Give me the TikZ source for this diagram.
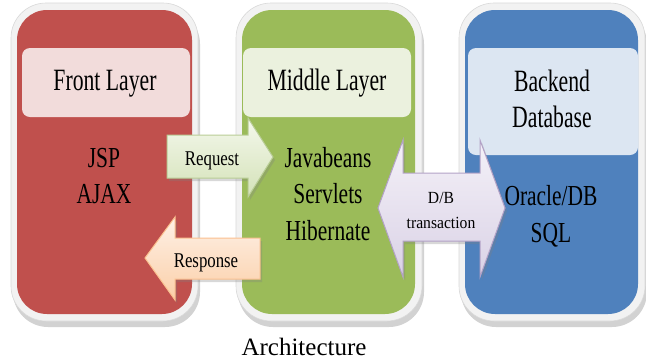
\documentclass[tikz,border=0pt]{standalone}
\usepackage{fontspec}
\setmainfont{Liberation Serif}
\newfontfamily\hdfont[FakeStretch=0.70]{Liberation Serif}
\newfontfamily\bdfont[FakeStretch=0.74]{Liberation Serif}
\newfontfamily\arfont[FakeStretch=0.80]{Liberation Serif}
\newfontfamily\dbfont[FakeStretch=0.92]{Liberation Serif}
\usetikzlibrary{shadows}
\definecolor{redp}{HTML}{C0504D}
\definecolor{greenp}{HTML}{9BBB59}
\definecolor{bluep}{HTML}{4F81BD}
\definecolor{redhd}{HTML}{F2DCDB}
\definecolor{greenhd}{HTML}{EBF1DE}
\definecolor{bluehd}{HTML}{DCE6F2}
\definecolor{framegray}{HTML}{F2F2F2}
\definecolor{reqtop}{HTML}{F4F8EC}
\definecolor{reqbot}{HTML}{D4E2B8}
\definecolor{reqline}{HTML}{B9CD96}
\definecolor{restop}{HTML}{FEF1E7}
\definecolor{resbot}{HTML}{FBCFA8}
\definecolor{resline}{HTML}{FAC08F}
\definecolor{dbtop}{HTML}{F4F1F8}
\definecolor{dbbot}{HTML}{DAD2E6}
\definecolor{dbline}{HTML}{B3A2C7}
\tikzset{
  frame/.style={fill=framegray, draw=gray!30, line width=0.6pt, rounded corners=35pt,
    drop shadow={shadow xshift=2pt, shadow yshift=-6pt, opacity=0.35, fill=gray}},
  panel/.style={rounded corners=30pt},
  hdbox/.style={rectangle, rounded corners=8pt, inner sep=0pt},
  hdtext/.style={anchor=base, inner sep=0pt, font=\hdfont\fontsize{31}{31}\selectfont},
  bdtext/.style={anchor=base, inner sep=0pt, font=\bdfont\fontsize{29}{29}\selectfont},
  artext/.style={anchor=base, inner sep=0pt, font=\arfont\fontsize{21}{21}\selectfont},
  dbtext/.style={anchor=base, inner sep=0pt, font=\dbfont\fontsize{17}{17}\selectfont},
  ashadow/.style={drop shadow={shadow xshift=2pt, shadow yshift=-3pt, opacity=0.3, fill=gray}},
}
\begin{document}
\begin{tikzpicture}[x=1pt,y=-1pt]
\useasboundingbox (0,0) rectangle (646,360);
\fill[white] (0,0) rectangle (646,360);
% panels
\path[frame] (11,3) rectangle (198,321);
\path[frame] (236,3) rectangle (422,321);
\path[frame] (459,3) rectangle (645,321);
\fill[redp, panel] (17,10) rectangle (192,314);
\fill[greenp, panel] (242,10) rectangle (415,314);
\fill[bluep, panel] (465,10) rectangle (638,314);
% header boxes
\node[hdbox, fill=redhd, minimum width=168pt, minimum height=69pt] (fronthd) at (106,82.5) {};
\node[hdbox, fill=greenhd, minimum width=168pt, minimum height=69pt] (midhd) at (327,82.5) {};
\node[hdbox, fill=bluehd, minimum width=170pt, minimum height=107pt] (backhd) at (553,101.5) {};
% header texts
\node[hdtext] (t1) at (105,90) {Front Layer};
\node[hdtext] (t2) at (327,90) {Middle Layer};
\node[hdtext] (t3) at (552,91) {Backend};
\node[hdtext] (t4) at (552,127) {Database};
% body texts
\node[bdtext] (jsp) at (104,167) {JSP};
\node[bdtext] (ajax) at (104,203) {AJAX};
\node[bdtext] (jb) at (328,167) {Javabeans};
\node[bdtext] (sv) at (328,203) {Servlets};
\node[bdtext] (hb) at (328,240) {Hibernate};
\node[bdtext] (ora) at (551,205) {Oracle/DB};
\node[bdtext] (sql) at (551,242) {SQL};
% Request arrow
\path[ashadow, draw=reqline, line width=1pt, top color=reqtop, bottom color=reqbot, line join=miter]
  (167,135) -- (248,135) -- (248,118) -- (273,157) -- (248,197) -- (248,178) -- (167,178) -- cycle;
\node[artext] (req) at (212,165) {Request};
% Response arrow
\path[ashadow, draw=resline, line width=1pt, top color=restop, bottom color=resbot, line join=miter]
  (260,238) -- (175,238) -- (175,217) -- (145,258) -- (175,300) -- (175,279) -- (260,279) -- cycle;
\node[artext] (resp) at (206,267) {Response};
% D/B transaction double arrow
\path[ashadow, draw=dbline, line width=1pt, top color=dbtop, bottom color=dbbot, line join=miter]
  (378,208) -- (403,140) -- (403,173) -- (480,173) -- (480,140) -- (505,208)
  -- (480,277) -- (480,241) -- (403,241) -- (403,277) -- cycle;
\node[dbtext] (db1) at (441,203) {D/B};
\node[dbtext] (db2) at (441,228) {transaction};
% caption
\node[anchor=base, inner sep=0pt, font=\fontsize{25}{25}\selectfont] (cap) at (304,355.5) {Architecture};
\end{tikzpicture}
\end{document}
